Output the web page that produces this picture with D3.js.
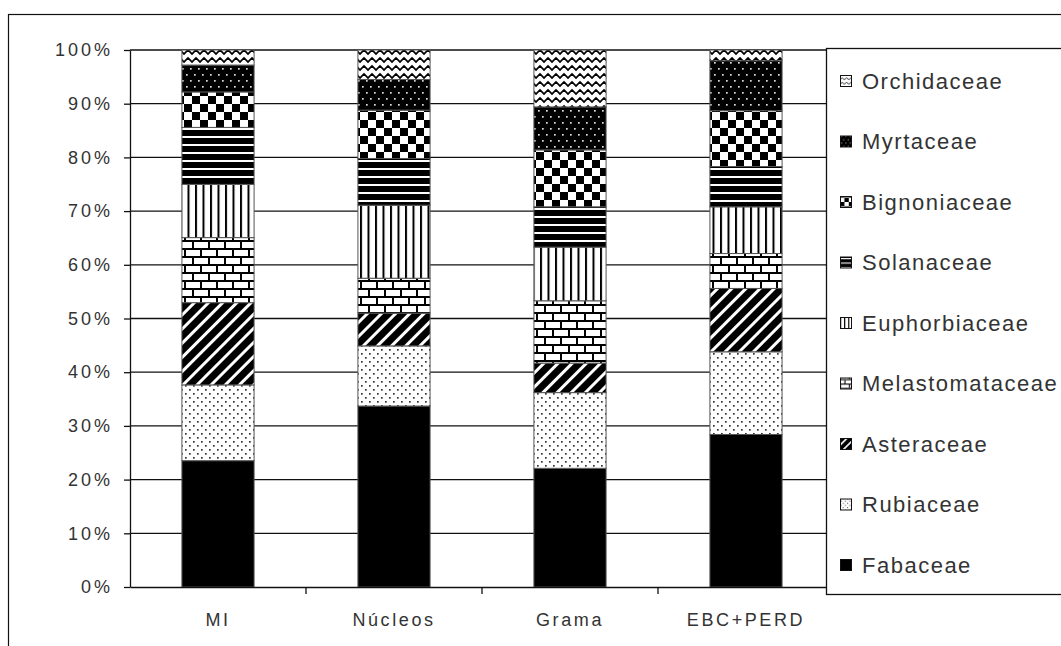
<!DOCTYPE html>
<html>
<head>
<meta charset="utf-8">
<script src="https://cdn.jsdelivr.net/npm/d3@7"></script>
<style>
  body { margin: 0; background: #fff; }
  svg { display: block; font-family: "Liberation Sans", Arial, sans-serif; }
</style>
</head>
<body>
<svg id="chart" width="1061" height="646"></svg>
<script>
// sites on the x axis
const categories = ['MI', 'Núcleos', 'Grama', 'EBC+PERD'];

// families, bottom of the stack first
const families = ['Fabaceae', 'Rubiaceae', 'Asteraceae', 'Melastomataceae', 'Euphorbiaceae',
  'Solanaceae', 'Bignoniaceae', 'Myrtaceae', 'Orchidaceae'];

// share of species per family (%), one value per site
const fabaceae = [23.5, 33.7, 22.1, 28.4];
const rubiaceae = [14.1, 11.2, 14.1, 15.4];
const asteraceae = [15.3, 6.1, 5.5, 11.8];
const melastomataceae = [12.1, 6.5, 11.6, 6.5];
const euphorbiaceae = [9.9, 13.6, 10.0, 8.7];
const solanaceae = [10.6, 8.7, 7.5, 7.5];
const bignoniaceae = [6.6, 9.0, 10.6, 10.4];
const myrtaceae = [5.0, 5.7, 8.0, 9.3];
const orchidaceae = [2.8, 5.5, 10.6, 2.0];

const yTicks = [0, 0.1, 0.2, 0.3, 0.4, 0.5, 0.6, 0.7, 0.8, 0.9, 1];

const seriesValues = {
  Fabaceae: fabaceae,
  Rubiaceae: rubiaceae,
  Asteraceae: asteraceae,
  Melastomataceae: melastomataceae,
  Euphorbiaceae: euphorbiaceae,
  Solanaceae: solanaceae,
  Bignoniaceae: bignoniaceae,
  Myrtaceae: myrtaceae,
  Orchidaceae: orchidaceae
};

const rows = categories.map((c, i) => {
  const row = { site: c };
  families.forEach(f => { row[f] = seriesValues[f][i]; });
  return row;
});

const svg = d3.select('#chart');
const defs = svg.append('defs');

// black & white fill patterns, one per family
const patternDrawers = {
  Fabaceae: { w: 8, h: 8, draw: p => {
    p.append('rect').attr('width', 8).attr('height', 8).attr('fill', '#000');
  } },
  Rubiaceae: { w: 8, h: 8, draw: p => {
    p.append('rect').attr('width', 8).attr('height', 8).attr('fill', '#fff');
    p.append('rect').attr('x', 1).attr('y', 1).attr('width', 1.7).attr('height', 1.7).attr('fill', '#333');
    p.append('rect').attr('x', 5).attr('y', 5).attr('width', 1.7).attr('height', 1.7).attr('fill', '#333');
  } },
  Asteraceae: { w: 10, h: 10, rotate: 45, draw: p => {
    p.append('rect').attr('width', 10).attr('height', 10).attr('fill', '#000');
    p.append('rect').attr('width', 3).attr('height', 10).attr('fill', '#fff');
  } },
  Melastomataceae: { w: 16, h: 16, draw: p => {
    p.append('rect').attr('width', 16).attr('height', 16).attr('fill', '#fff');
    p.append('rect').attr('y', 0).attr('width', 16).attr('height', 2).attr('fill', '#000');
    p.append('rect').attr('y', 8).attr('width', 16).attr('height', 2).attr('fill', '#000');
    p.append('rect').attr('x', 0).attr('y', 2).attr('width', 2).attr('height', 6).attr('fill', '#000');
    p.append('rect').attr('x', 8).attr('y', 10).attr('width', 2).attr('height', 6).attr('fill', '#000');
  } },
  Euphorbiaceae: { w: 7.5, h: 8, draw: p => {
    p.append('rect').attr('width', 7.5).attr('height', 8).attr('fill', '#fff');
    p.append('rect').attr('width', 2).attr('height', 8).attr('fill', '#000');
  } },
  Solanaceae: { w: 8, h: 8, draw: p => {
    p.append('rect').attr('width', 8).attr('height', 8).attr('fill', '#000');
    p.append('rect').attr('width', 8).attr('height', 2).attr('fill', '#fff');
  } },
  Bignoniaceae: { w: 16, h: 16, draw: p => {
    p.append('rect').attr('width', 16).attr('height', 16).attr('fill', '#fff');
    p.append('rect').attr('width', 8).attr('height', 8).attr('fill', '#000');
    p.append('rect').attr('x', 8).attr('y', 8).attr('width', 8).attr('height', 8).attr('fill', '#000');
  } },
  Myrtaceae: { w: 8, h: 12, draw: p => {
    p.append('rect').attr('width', 8).attr('height', 12).attr('fill', '#000');
    p.append('rect').attr('x', 2).attr('y', 2).attr('width', 1.7).attr('height', 1.7).attr('fill', '#ddd');
    p.append('rect').attr('x', 6).attr('y', 8).attr('width', 1.7).attr('height', 1.7).attr('fill', '#ddd');
  } },
  Orchidaceae: { w: 8, h: 8, draw: p => {
    p.append('rect').attr('width', 8).attr('height', 8).attr('fill', '#fff');
    p.append('path').attr('d', 'M-4,2L0,6L4,2L8,6L12,2')
      .attr('fill', 'none').attr('stroke', '#000').attr('stroke-width', 1.6);
  } }
};

function addPattern(id, spec, scale) {
  const p = defs.append('pattern')
    .attr('id', id)
    .attr('patternUnits', 'userSpaceOnUse')
    .attr('width', spec.w)
    .attr('height', spec.h);
  const tf = [];
  if (spec.rotate) tf.push(`rotate(${spec.rotate})`);
  if (scale !== 1) tf.push(`scale(${scale})`);
  if (tf.length) p.attr('patternTransform', tf.join(' '));
  spec.draw(p);
}

const patternId = f => 'pat-' + f.toLowerCase();
families.forEach(f => {
  addPattern(patternId(f), patternDrawers[f], 1);
  addPattern(patternId(f) + '-small', patternDrawers[f], 0.55);
});

const x = d3.scaleBand()
  .domain(categories)
  .range([130, 834])
  .paddingInner(0.59)
  .paddingOuter(0.295);

const y = d3.scaleLinear()
  .domain([0, 1])
  .range([587, 50]);

const stack = d3.stack()
  .keys(families)
  .offset(d3.stackOffsetExpand);

const series = stack(rows);

// outer frame
svg.append('rect')
  .attr('x', 8.5).attr('y', 14.5)
  .attr('width', 1100).attr('height', 700)
  .attr('fill', 'none').attr('stroke', '#111').attr('stroke-width', 1.2);

// gridlines
svg.append('g')
  .selectAll('line')
  .data(yTicks.filter(d => d > 0))
  .enter()
  .append('line')
  .attr('x1', 130).attr('x2', 834)
  .attr('y1', d => y(d)).attr('y2', d => y(d))
  .attr('stroke', '#111')
  .attr('stroke-width', 1.3);

// stacked bars
svg.append('g')
  .selectAll('g')
  .data(series)
  .enter()
  .append('g')
  .attr('fill', d => `url(#${patternId(d.key)})`)
  .selectAll('rect')
  .data(d => d.map((v, i) => ({ v, site: categories[i] })))
  .enter()
  .append('rect')
  .attr('x', d => x(d.site))
  .attr('y', d => y(d.v[1]))
  .attr('width', x.bandwidth())
  .attr('height', d => y(d.v[0]) - y(d.v[1]))
  .attr('stroke', '#555')
  .attr('stroke-width', 1);

// y axis
const yAxis = svg.append('g')
  .attr('transform', 'translate(130,0)')
  .call(d3.axisLeft(y)
    .tickValues(yTicks)
    .tickFormat(d3.format('.0%'))
    .tickSize(6)
    .tickSizeOuter(0)
    .tickPadding(11));

yAxis.select('.domain').attr('stroke', '#111').attr('stroke-width', 1.3);
yAxis.selectAll('.tick line').attr('stroke', '#111').attr('stroke-width', 1.3);
yAxis.selectAll('.tick text')
  .attr('fill', '#333')
  .style('font-size', '18px')
  .style('letter-spacing', '3px')
  .style('font-family', '"Liberation Sans", Arial, sans-serif');

// x axis: line, boundary ticks and centred labels
const xAxis = svg.append('g')
  .attr('transform', 'translate(0,587)')
  .call(d3.axisBottom(x).tickSize(0).tickPadding(26).tickSizeOuter(0));

xAxis.select('.domain').attr('stroke', '#111').attr('stroke-width', 1.3);
xAxis.selectAll('.tick text')
  .attr('fill', '#333')
  .style('font-size', '18px')
  .style('letter-spacing', '2.6px')
  .style('font-family', '"Liberation Sans", Arial, sans-serif');

xAxis.selectAll('.boundary')
  .data(categories.slice(1))
  .enter()
  .append('line')
  .attr('class', 'boundary')
  .attr('x1', d => x(d) - x.step() * x.paddingInner() / 2)
  .attr('x2', d => x(d) - x.step() * x.paddingInner() / 2)
  .attr('y1', 0).attr('y2', 7)
  .attr('stroke', '#111')
  .attr('stroke-width', 1.3);

// legend
const legend = svg.append('g');
legend.append('rect')
  .attr('x', 826.5).attr('y', 48.5)
  .attr('width', 300).attr('height', 546)
  .attr('fill', '#fff')
  .attr('stroke', '#111')
  .attr('stroke-width', 1.3);

const legendY = d3.scaleLinear()
  .domain([0, families.length - 1])
  .range([81, 565]);

const legendItems = legend.selectAll('g.item')
  .data(families.slice().reverse())
  .enter()
  .append('g')
  .attr('class', 'item')
  .attr('transform', (d, i) => `translate(840,${legendY(i)})`);

legendItems.append('rect')
  .attr('x', 0.5).attr('y', -5.5)
  .attr('width', 11).attr('height', 11)
  .attr('fill', d => `url(#${patternId(d)}-small)`)
  .attr('stroke', '#111')
  .attr('stroke-width', 1);

legendItems.append('text')
  .attr('x', 22)
  .attr('dy', '0.36em')
  .attr('fill', '#333')
  .style('font-size', '22px')
  .style('letter-spacing', '1.5px')
  .text(d => d);
</script>
</body>
</html>
